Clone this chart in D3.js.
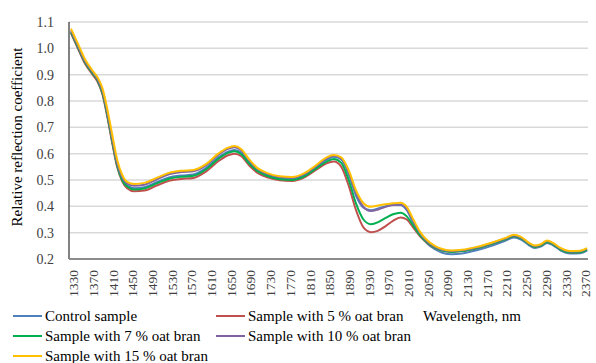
<!DOCTYPE html>
<html>
<head>
<meta charset="utf-8">
<script src="https://cdn.jsdelivr.net/npm/d3@7"></script>
</head>
<body style="margin:0;background:#fff">
<div id="chart"></div>
<script>
// ------------------------------------------------------------------ Data
var wavelengths = [1326, 1340, 1355, 1370, 1380, 1390, 1400, 1410, 1420, 1430,
  1440, 1455, 1475, 1500, 1525, 1550, 1575, 1600, 1625, 1645,
  1658, 1672, 1688, 1705, 1725, 1750, 1775, 1800, 1825, 1845,
  1860, 1875, 1890, 1905, 1920, 1935, 1950, 1965, 1980, 1995,
  2008, 2020, 2035, 2050, 2065, 2080, 2100, 2120, 2150, 2180,
  2210, 2225, 2240, 2255, 2268, 2280, 2293, 2305, 2320, 2340,
  2360, 2374];

var control = [1.060, 1.003, 0.943, 0.903, 0.877, 0.830, 0.745, 0.645, 0.555, 0.503,
  0.479, 0.469, 0.473, 0.492, 0.510, 0.517, 0.521, 0.545, 0.585, 0.608,
  0.614, 0.603, 0.566, 0.536, 0.518, 0.506, 0.503, 0.518, 0.550, 0.577,
  0.588, 0.578, 0.522, 0.440, 0.395, 0.385, 0.392, 0.400, 0.406, 0.405,
  0.385, 0.342, 0.292, 0.258, 0.237, 0.224, 0.218, 0.221, 0.233, 0.250,
  0.271, 0.282, 0.274, 0.254, 0.242, 0.247, 0.261, 0.252, 0.233, 0.221,
  0.222, 0.232];

var bran5 = [1.058, 1.000, 0.940, 0.900, 0.873, 0.825, 0.738, 0.638, 0.548, 0.495,
  0.469, 0.457, 0.460, 0.479, 0.497, 0.504, 0.508, 0.532, 0.571, 0.594,
  0.600, 0.590, 0.555, 0.527, 0.510, 0.499, 0.496, 0.510, 0.540, 0.563,
  0.570, 0.550, 0.478, 0.385, 0.320, 0.302, 0.308, 0.325, 0.345, 0.358,
  0.350, 0.322, 0.286, 0.260, 0.242, 0.232, 0.227, 0.230, 0.241, 0.257,
  0.276, 0.286, 0.278, 0.258, 0.246, 0.251, 0.265, 0.256, 0.237, 0.225,
  0.226, 0.236];

var bran7 = [1.062, 1.005, 0.945, 0.905, 0.878, 0.830, 0.745, 0.645, 0.553, 0.500,
  0.475, 0.464, 0.468, 0.487, 0.505, 0.512, 0.516, 0.540, 0.580, 0.603,
  0.609, 0.598, 0.562, 0.533, 0.515, 0.503, 0.500, 0.514, 0.545, 0.570,
  0.580, 0.565, 0.500, 0.410, 0.350, 0.332, 0.340, 0.356, 0.370, 0.376,
  0.362, 0.330, 0.290, 0.262, 0.243, 0.232, 0.227, 0.230, 0.241, 0.257,
  0.276, 0.286, 0.278, 0.258, 0.246, 0.251, 0.265, 0.256, 0.237, 0.225,
  0.226, 0.236];

var bran10 = [1.068, 1.010, 0.950, 0.910, 0.883, 0.838, 0.755, 0.655, 0.562, 0.510,
  0.486, 0.478, 0.482, 0.502, 0.522, 0.530, 0.533, 0.555, 0.595, 0.618,
  0.624, 0.612, 0.574, 0.542, 0.523, 0.511, 0.508, 0.523, 0.554, 0.582,
  0.592, 0.582, 0.530, 0.450, 0.398, 0.382, 0.388, 0.398, 0.405, 0.407,
  0.390, 0.348, 0.298, 0.265, 0.246, 0.235, 0.230, 0.233, 0.244, 0.260,
  0.279, 0.289, 0.281, 0.261, 0.249, 0.254, 0.268, 0.259, 0.240, 0.228,
  0.229, 0.239];

var bran15 = [1.075, 1.018, 0.957, 0.915, 0.890, 0.848, 0.768, 0.670, 0.576, 0.520,
  0.493, 0.485, 0.489, 0.508, 0.527, 0.535, 0.538, 0.560, 0.600, 0.623,
  0.629, 0.617, 0.578, 0.545, 0.526, 0.514, 0.511, 0.526, 0.558, 0.586,
  0.595, 0.586, 0.537, 0.460, 0.412, 0.398, 0.403, 0.408, 0.412, 0.414,
  0.398, 0.355, 0.303, 0.270, 0.250, 0.238, 0.232, 0.235, 0.246, 0.262,
  0.281, 0.292, 0.284, 0.263, 0.251, 0.256, 0.270, 0.261, 0.242, 0.230,
  0.231, 0.241];

var seriesNames = ['Control sample', 'Sample with 5 % oat bran', 'Sample with 7 % oat bran',
  'Sample with 10 % oat bran', 'Sample with 15 % oat bran'];
var seriesValues = [control, bran5, bran7, bran10, bran15];
var seriesColors = ['#4F81BD', '#C0504D', '#00B050', '#8064A2', '#FFC000'];

var xTicks = d3.range(1330, 2371, 40);
var yTicks = [0.2, 0.3, 0.4, 0.5, 0.6, 0.7, 0.8, 0.9, 1.0, 1.1];
// ----------------------------------------------------------------- /Data

var FONT = '"Times New Roman", "Liberation Serif", serif';
var W = 596, H = 363;
var margin = {top: 22, right: 8, bottom: 104, left: 69};
var width = W - margin.left - margin.right,
    height = H - margin.top - margin.bottom;

var svg = d3.select('#chart').append('svg')
    .attr('width', W)
    .attr('height', H);

var g = svg.append('g')
    .attr('transform', 'translate(' + margin.left + ',' + margin.top + ')');

var x = d3.scaleLinear().domain([1322, 2376]).range([0, width]);
var y = d3.scaleLinear().domain([0.2, 1.1]).range([height, 0]);

// gridlines
g.append('g')
    .selectAll('line')
    .data(yTicks.slice(1))
  .enter().append('line')
    .attr('x1', 0)
    .attr('x2', width)
    .attr('y1', function(d) { return y(d); })
    .attr('y2', function(d) { return y(d); })
    .attr('stroke', '#D9D9D9')
    .attr('stroke-width', 1.5);

// y axis labels
var yAxis = g.append('g')
    .call(d3.axisLeft(y).tickValues(yTicks).tickSize(0).tickPadding(15)
      .tickFormat(d3.format('.1f')));
yAxis.attr('font-family', null);
yAxis.select('.domain').remove();
yAxis.selectAll('text')
    .style('font-family', FONT)
    .style('font-size', '14px')
    .attr('fill', '#404040');

// x axis labels
var xAxis = g.append('g')
    .attr('transform', 'translate(0,' + height + ')')
    .call(d3.axisBottom(x).tickValues(xTicks).tickSize(0).tickFormat(d3.format('d')));
xAxis.attr('font-family', null);
xAxis.select('.domain').remove();
xAxis.selectAll('text')
    .style('font-family', FONT)
    .style('font-size', '13.5px')
    .attr('fill', '#404040')
    .attr('transform', 'rotate(-90)')
    .attr('text-anchor', 'end')
    .attr('x', -11)
    .attr('y', 0)
    .attr('dy', '0.35em');

// axis lines
g.append('line')
    .attr('x1', 0).attr('x2', 0)
    .attr('y1', 0).attr('y2', height)
    .attr('stroke', '#595959')
    .attr('stroke-width', 1.5);
g.append('line')
    .attr('x1', 0).attr('x2', width)
    .attr('y1', height).attr('y2', height)
    .attr('stroke', '#8C8C8C')
    .attr('stroke-width', 2);

// series lines
var line = d3.line()
    .x(function(d, i) { return x(wavelengths[i]); })
    .y(function(d) { return y(d); })
    .curve(d3.curveMonotoneX);

g.append('g')
    .selectAll('path')
    .data(seriesValues)
  .enter().append('path')
    .attr('d', line)
    .attr('fill', 'none')
    .attr('stroke', function(d, i) { return seriesColors[i]; })
    .attr('stroke-width', 2);

// y axis title
svg.append('text')
    .attr('transform', 'translate(22,137) rotate(-90)')
    .attr('text-anchor', 'middle')
    .style('font-family', FONT)
    .style('font-size', '15px')
    .attr('fill', '#000')
    .text('Relative reflection coefficient');

// legend
var legendPos = [[13, 316], [216, 316], [13, 336], [216, 336], [13, 356]];
var legend = svg.append('g');
seriesNames.forEach(function(name, i) {
  var p = legendPos[i];
  legend.append('line')
      .attr('x1', p[0]).attr('x2', p[0] + 29)
      .attr('y1', p[1]).attr('y2', p[1])
      .attr('stroke', seriesColors[i])
      .attr('stroke-width', 2);
  legend.append('text')
      .attr('x', p[0] + 32)
      .attr('y', p[1])
      .attr('dy', '0.35em')
      .style('font-family', FONT)
      .style('font-size', '15px')
      .attr('fill', '#000')
      .text(name);
});

svg.append('text')
    .attr('x', 423)
    .attr('y', 316)
    .attr('dy', '0.35em')
    .style('font-family', FONT)
    .style('font-size', '15px')
    .attr('fill', '#000')
    .text('Wavelength, nm');
</script>
</body>
</html>
